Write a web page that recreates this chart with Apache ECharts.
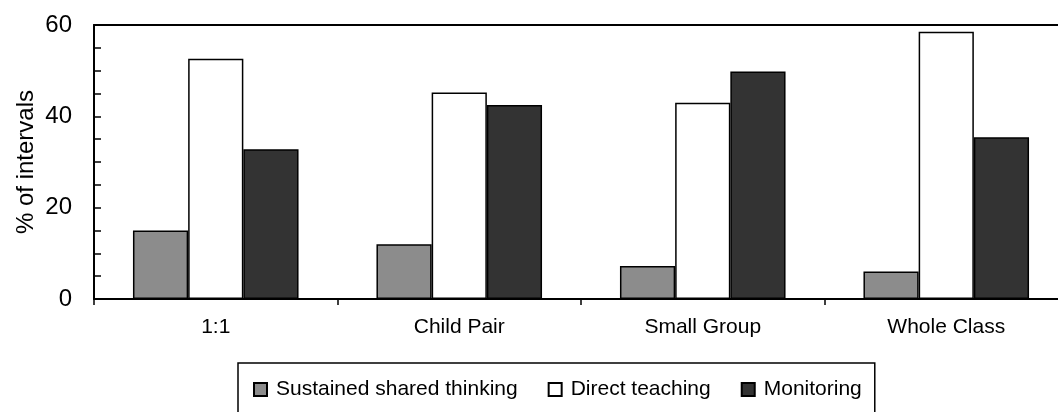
<!DOCTYPE html>
<html>
<head>
<meta charset="utf-8">
<script src="https://cdn.jsdelivr.net/npm/echarts@6/dist/echarts.min.js"></script>
<style>
  html, body { margin: 0; padding: 0; background: #fff; overflow: hidden; }
  /* plot runs past the right edge in the original, so the canvas is a bit wider than the window */
  #chart { width: 1068px; height: 412px; }
</style>
</head>
<body>
<div id="chart"></div>
<script>
var categories = ['1:1', 'Child Pair', 'Small Group', 'Whole Class'];
var sustained = [15, 12, 7.2, 6];
var direct = [52.6, 45.2, 43, 58.5];
var monitoring = [32.8, 42.5, 49.8, 35.4];
var seriesNames = ['Sustained shared thinking', 'Direct teaching', 'Monitoring'];

var font = '"Liberation Sans", Arial, sans-serif';
var chart = echarts.init(document.getElementById('chart'));

function barSeries(name, data, color) {
  return {
    name: name,
    type: 'bar',
    data: data,
    barGap: '0%',
    barCategoryGap: '32%',
    itemStyle: { color: color, borderColor: '#000', borderWidth: 1.5 }
  };
}

var option = {
  animation: false,
  textStyle: { fontFamily: font },
  grid: { left: 94, top: 25, right: 0, bottom: 113 },
  legend: {
    left: 238,
    top: 363,
    padding: [16, 13, 16, 15],
    borderColor: '#000',
    borderWidth: 1.5,
    itemWidth: 13,
    itemHeight: 13,
    itemGap: 30,
    icon: 'rect',
    textStyle: { fontFamily: font, fontSize: 21, color: '#000', padding: [0, 0, 0, 4] },
    data: seriesNames
  },
  xAxis: [{
    type: 'category',
    data: categories,
    axisLine: { lineStyle: { color: '#000', width: 2 } },
    axisTick: { show: true, length: 6, lineStyle: { color: '#000', width: 1.5 } },
    axisLabel: { fontFamily: font, fontSize: 21, color: '#000', margin: 18 }
  }, {
    type: 'category',
    position: 'top',
    data: categories,
    axisLine: { show: true, lineStyle: { color: '#000', width: 2 } },
    axisTick: { show: false },
    axisLabel: { show: false }
  }],
  yAxis: {
    type: 'value',
    min: 0,
    max: 60,
    interval: 5,
    name: '% of intervals',
    nameLocation: 'middle',
    nameGap: 56,
    nameMoveOverlap: false,
    nameTextStyle: { fontFamily: font, fontSize: 24, color: '#000' },
    axisLine: { show: true, lineStyle: { color: '#000', width: 2 } },
    axisTick: { show: true, inside: true, length: 7, lineStyle: { color: '#000', width: 1.5 } },
    axisLabel: {
      fontFamily: font, fontSize: 24, color: '#000', margin: 22,
      formatter: function (v) { return v % 20 === 0 ? String(v) : ''; }
    },
    splitLine: { show: false }
  },
  series: [
    barSeries(seriesNames[0], sustained, '#8c8c8c'),
    barSeries(seriesNames[1], direct, '#ffffff'),
    barSeries(seriesNames[2], monitoring, '#333333')
  ]
};
chart.setOption(option);
</script>
</body>
</html>
